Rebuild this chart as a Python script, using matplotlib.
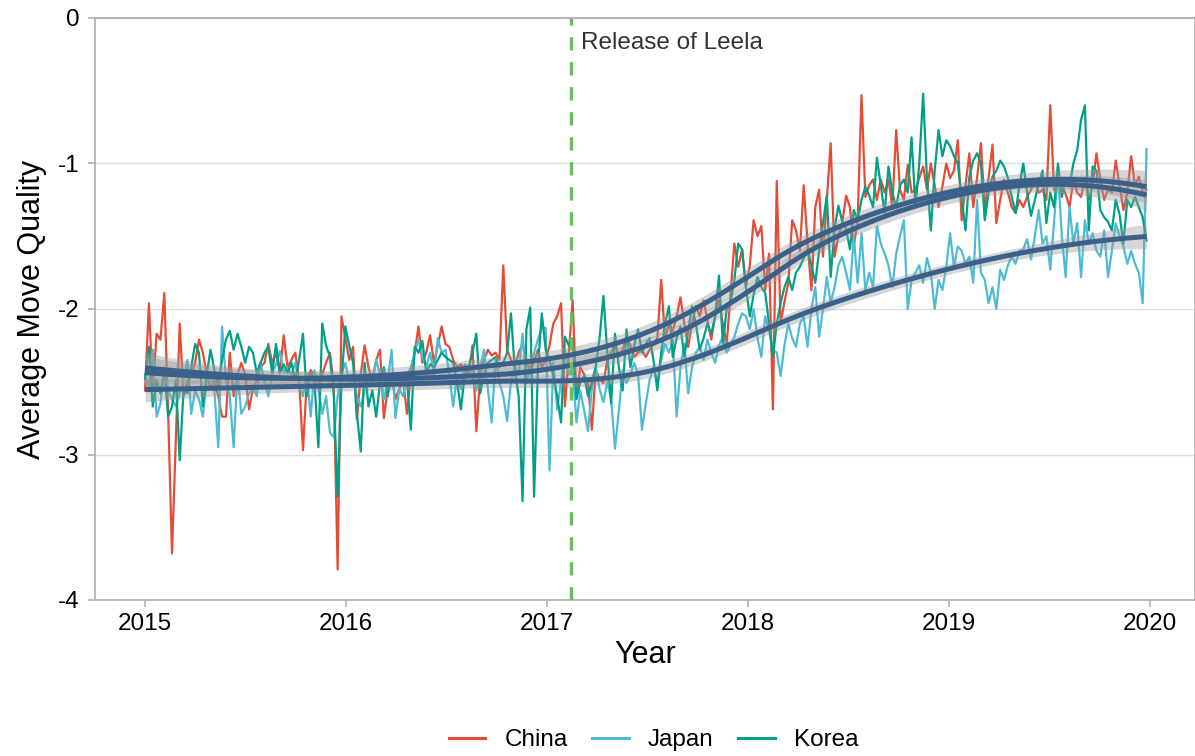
import numpy as np
import matplotlib
matplotlib.use("Agg")
import matplotlib.pyplot as plt
from matplotlib.lines import Line2D

plt.rcParams['font.family'] = ['Liberation Sans', 'DejaVu Sans']

countries = ["China", "Japan", "Korea"]
colors = {"China": "#E64B35", "Japan": "#4DBBD5", "Korea": "#00A087"}
smooth_color = "#3B618B"
release_year = 2017.12
release_label = "Release of Leela"
year_ticks = [2015, 2016, 2017, 2018, 2019, 2020]
y_ticks = [0, -1, -2, -3, -4]

# weekly averages, first week of 2015 to last week of 2019
china = [
    -2.56, -1.96, -2.56, -2.17, -2.21, -1.89, -2.72, -3.68, -2.90, -2.10, -2.60, -2.49, -2.45,
    -2.37, -2.21, -2.30, -2.44, -2.55, -2.49, -2.60, -2.74, -2.74, -2.30, -2.60, -2.45, -2.37,
    -2.45, -2.69, -2.55, -2.49, -2.40, -2.37, -2.24, -2.37, -2.30, -2.44, -2.18, -2.40, -2.35,
    -2.30, -2.49, -2.97, -2.49, -2.42, -2.46, -2.53, -2.45, -2.37, -2.30, -2.53, -3.79, -2.05,
    -2.20, -2.35, -2.26, -2.76, -2.45, -2.25, -2.40, -2.49, -2.35, -2.28, -2.75, -2.55, -2.46,
    -2.62, -2.55, -2.49, -2.72, -2.45, -2.30, -2.12, -2.37, -2.30, -2.18, -2.37, -2.25, -2.12,
    -2.24, -2.26, -2.35, -2.40, -2.38, -2.42, -2.46, -2.25, -2.84, -2.46, -2.35, -2.28, -2.32,
    -2.30, -2.35, -1.70, -2.28, -2.35, -2.40, -2.30, -2.24, -2.35, -2.44, -2.36, -2.28, -2.40,
    -2.35, -2.25, -2.10, -2.05, -1.96, -2.67, -2.30, -1.94, -2.60, -2.40, -2.45, -2.51, -2.83,
    -2.42, -2.48, -2.51, -2.35, -2.30, -2.24, -2.33, -2.28, -2.19, -2.25, -2.33, -2.30, -2.28,
    -2.33, -2.28, -2.24, -2.20, -1.80, -2.21, -2.10, -2.15, -2.05, -1.92, -2.10, -2.26, -2.10,
    -1.98, -2.05, -1.94, -2.08, -2.21, -2.05, -1.94, -2.10, -2.24, -1.90, -1.55, -1.71, -1.59,
    -1.85, -1.70, -1.39, -1.50, -1.43, -1.87, -1.62, -2.69, -1.12, -2.10, -1.95, -1.82, -1.39,
    -1.46, -1.60, -1.15, -1.55, -1.87, -1.30, -1.18, -1.64, -1.25, -0.86, -1.64, -1.50, -1.41,
    -1.22, -1.30, -1.57, -1.39, -0.53, -1.23, -1.15, -1.11, -1.25, -1.11, -1.20, -1.11, -1.30,
    -0.77, -1.18, -1.25, -1.01, -1.20, -1.18, -1.10, -1.02, -1.18, -1.00, -1.15, -1.30, -1.16,
    -1.00, -1.10, -1.05, -0.84, -1.39, -1.15, -0.93, -1.30, -1.10, -0.86, -1.32, -1.10, -0.87,
    -1.41, -1.25, -1.11, -1.20, -1.30, -1.34, -1.25, -1.30, -1.23, -1.18, -1.11, -1.20, -1.18,
    -1.25, -0.60, -1.18, -1.07, -1.15, -1.21, -1.30, -1.11, -1.20, -1.23, -1.10, -1.25, -1.15,
    -0.93, -1.11, -1.25, -1.18, -1.20, -0.98, -1.15, -1.32, -1.20, -0.95, -1.15, -1.09, -1.20,
    -1.18,
]
japan = [
    -2.45, -2.55, -2.28, -2.74, -2.65, -2.40, -2.56, -2.62, -2.67, -2.58, -2.49, -2.35, -2.72,
    -2.56, -2.62, -2.74, -2.50, -2.46, -2.56, -2.95, -2.12, -2.49, -2.60, -2.95, -2.44, -2.72,
    -2.67, -2.58, -2.53, -2.60, -2.37, -2.50, -2.60, -2.45, -2.38, -2.29, -2.44, -2.40, -2.45,
    -2.37, -2.52, -2.60, -2.44, -2.74, -2.42, -2.55, -2.72, -2.60, -2.85, -2.88, -2.60, -2.45,
    -2.37, -2.50, -2.45, -2.60, -2.67, -2.56, -2.45, -2.52, -2.35, -2.45, -2.62, -2.50, -2.28,
    -2.75, -2.55, -2.60, -2.46, -2.40, -2.30, -2.21, -2.33, -2.40, -2.30, -2.45, -2.20, -2.30,
    -2.28, -2.45, -2.67, -2.46, -2.55, -2.38, -2.40, -2.45, -2.56, -2.40, -2.28, -2.55, -2.78,
    -2.33, -2.50, -2.60, -2.77, -2.50, -2.40, -2.45, -2.17, -2.51, -2.40, -2.30, -2.21, -2.13,
    -2.13, -3.11, -2.37, -2.69, -2.50, -2.28, -2.45, -2.40, -2.78, -2.56, -2.70, -2.84, -2.55,
    -2.40, -2.55, -2.64, -2.50, -2.62, -2.96, -2.70, -2.42, -2.51, -2.45, -2.37, -2.45, -2.83,
    -2.65, -2.49, -2.40, -2.51, -2.35, -2.24, -2.30, -2.21, -2.74, -2.40, -2.24, -2.58, -2.40,
    -2.30, -2.26, -2.35, -2.21, -2.30, -2.37, -2.25, -2.19, -2.30, -2.25, -2.19, -2.10, -2.03,
    -2.05, -2.14, -2.00, -2.20, -2.33, -2.05, -2.15, -2.28, -2.30, -2.46, -2.25, -2.10, -2.20,
    -2.26, -2.10, -2.05, -2.26, -2.00, -1.85, -2.19, -2.00, -1.78, -1.96, -1.85, -1.70, -1.64,
    -1.75, -1.87, -1.50, -1.82, -1.48, -1.87, -1.75, -1.85, -1.43, -1.55, -1.62, -1.70, -1.85,
    -1.62, -1.50, -1.39, -2.00, -1.80, -1.75, -1.70, -1.82, -1.65, -1.75, -2.00, -1.80, -1.87,
    -1.71, -1.48, -1.71, -1.57, -1.60, -1.69, -1.64, -1.82, -1.25, -1.75, -1.80, -1.96, -1.85,
    -2.00, -1.73, -1.80, -1.70, -1.64, -1.69, -1.60, -1.59, -1.52, -1.66, -1.50, -1.32, -1.55,
    -1.50, -1.73, -1.40, -1.05, -1.50, -1.78, -1.30, -1.55, -1.41, -1.78, -1.39, -1.55, -1.48,
    -1.60, -1.64, -1.46, -1.78, -1.60, -1.41, -1.50, -1.57, -1.69, -1.60, -1.69, -1.75, -1.96,
    -0.90,
]
korea = [
    -2.48, -2.26, -2.67, -2.49, -2.58, -2.42, -2.74, -2.67, -2.49, -3.04, -2.56, -2.58, -2.40,
    -2.24, -2.30, -2.67, -2.45, -2.28, -2.42, -2.53, -2.35, -2.21, -2.15, -2.28, -2.17, -2.26,
    -2.37, -2.26, -2.30, -2.44, -2.37, -2.30, -2.26, -2.44, -2.24, -2.44, -2.38, -2.44, -2.37,
    -2.49, -2.35, -2.17, -2.60, -2.44, -2.50, -2.95, -2.10, -2.25, -2.33, -2.60, -3.29, -2.50,
    -2.12, -2.25, -2.37, -2.72, -2.98, -2.37, -2.67, -2.56, -2.74, -2.51, -2.40, -2.60, -2.45,
    -2.49, -2.44, -2.50, -2.49, -2.83, -2.26, -2.30, -2.22, -2.44, -2.38, -2.40, -2.35, -2.30,
    -2.33, -2.35, -2.37, -2.50, -2.69, -2.45, -2.40, -2.30, -2.17, -2.58, -2.45, -2.37, -2.35,
    -2.33, -2.40, -2.37, -2.30, -2.03, -2.42, -2.60, -3.32, -2.14, -1.99, -3.29, -2.40, -2.03,
    -2.28, -2.35, -2.46, -2.60, -2.78, -2.19, -2.25, -2.21, -2.62, -2.50, -2.46, -2.60, -2.50,
    -2.40, -2.20, -1.91, -2.30, -2.65, -2.17, -2.40, -2.56, -2.14, -2.40, -2.25, -2.14, -2.30,
    -2.24, -2.20, -2.35, -2.56, -2.30, -2.10, -1.98, -2.33, -2.20, -2.12, -2.33, -2.15, -1.98,
    -2.10, -2.28, -2.20, -2.10, -2.17, -2.05, -1.77, -2.24, -2.00, -1.96, -1.80, -1.55, -1.59,
    -1.85, -2.05, -1.90, -1.78, -1.85, -1.89, -2.10, -2.33, -2.10, -1.96, -1.85, -1.78, -1.87,
    -1.75, -1.71, -1.65, -1.59, -1.70, -1.82, -1.60, -1.41, -1.22, -1.78, -1.45, -1.29, -1.40,
    -1.45, -1.59, -1.32, -1.39, -1.25, -1.16, -1.22, -1.30, -0.96, -1.15, -1.34, -1.02, -1.20,
    -1.30, -1.15, -1.11, -1.20, -0.82, -1.30, -1.00, -0.52, -1.11, -1.46, -1.05, -0.77, -0.95,
    -0.84, -0.88, -0.95, -1.00, -1.23, -1.46, -1.09, -0.98, -0.93, -1.00, -1.39, -1.20, -1.09,
    -1.05, -0.98, -1.02, -1.10, -1.23, -1.34, -1.15, -1.00, -1.20, -1.36, -1.25, -1.14, -1.05,
    -1.41, -1.20, -1.30, -1.00, -1.23, -1.10, -1.16, -1.00, -0.91, -0.70, -0.60, -1.46, -1.02,
    -1.05, -1.32, -1.37, -1.40, -1.46, -1.25, -1.35, -1.55, -1.25, -1.30, -1.23, -1.30, -1.37,
    -1.53,
]
series = {"China": china, "Japan": japan, "Korea": korea}


def loess(x, y, xs, span=0.75):
    x = np.asarray(x, float)
    y = np.asarray(y, float)
    n = len(x)
    q = int(np.floor(n * span))

    def hat_row(x0):
        d = np.abs(x - x0)
        h = np.sort(d)[q - 1]
        w = np.clip(1 - (d / h) ** 3, 0, None) ** 3
        X = np.column_stack([np.ones(n), x - x0, (x - x0) ** 2])
        XtW = X.T * w
        A = np.linalg.solve(XtW @ X, XtW)
        return A[0]

    L = np.array([hat_row(xi) for xi in x])
    fitted = L @ y
    resid = y - fitted
    dof = n - np.trace(L)
    sigma = np.sqrt(np.sum(resid ** 2) / dof)
    rows = np.array([hat_row(x0) for x0 in xs])
    fit = rows @ y
    se = sigma * np.sqrt(np.sum(rows ** 2, axis=1))
    return fit, 1.97 * se


fig = plt.figure(figsize=(11.95, 7.56), dpi=100)
ax = fig.add_axes([95 / 1195, 1 - 600 / 756, 1100 / 1195, 582 / 756])

for c in countries:
    v = np.array(series[c])
    t = 2015 + np.arange(len(v)) * 7 / 365.25
    ax.plot(t, v, color=colors[c], lw=1.6, zorder=2, solid_joinstyle='round')

for c in countries:
    v = np.array(series[c])
    t = 2015 + np.arange(len(v)) * 7 / 365.25
    xs = np.linspace(t[0], t[-1], 200)
    fit, band = loess(t, v, xs)
    ax.fill_between(xs, fit - band, fit + band, color="#999999", alpha=0.4, lw=0, zorder=3)
    ax.plot(xs, fit, color=smooth_color, lw=3.6, zorder=4, solid_capstyle='butt')

ax.axvline(release_year, color="#6ABD5E", lw=2.4, ls=(0, (4, 3.5)), zorder=5)
ax.text(release_year + 0.05, -0.17, release_label, fontsize=17.5, color="#333333",
        va='center', ha='left')

ax.set_xlim(2014.751, 2020.224)
ax.set_ylim(-4, 0)
ax.set_xticks(year_ticks)
ax.set_xticklabels([str(y) for y in year_ticks])
ax.set_yticks(y_ticks)
ax.set_yticklabels([str(y) for y in y_ticks])
ax.grid(axis='y', color="#DDDDDD", lw=1.0)
ax.set_axisbelow(True)
for s in ax.spines.values():
    s.set_color("#B3B3B3")
    s.set_linewidth(1.3)
ax.tick_params(axis='both', colors="#B3B3B3", length=5, width=1.2, labelsize=17.5,
               labelcolor="black")
ax.tick_params(axis='x', pad=4)
ax.tick_params(axis='y', pad=6)
ax.set_xlabel("Year", fontsize=22, labelpad=4)
ax.set_ylabel("Average Move Quality", fontsize=22, labelpad=8)

handles = [Line2D([0], [0], color=colors[c], lw=2.2) for c in countries]
fig.legend(handles, countries, loc='center', bbox_to_anchor=(0.547, 1 - 740 / 756), ncol=3,
           frameon=False, fontsize=17.5, handlelength=1.5, columnspacing=1.0,
           handletextpad=0.8)

fig.savefig("out.png", dpi=100)
